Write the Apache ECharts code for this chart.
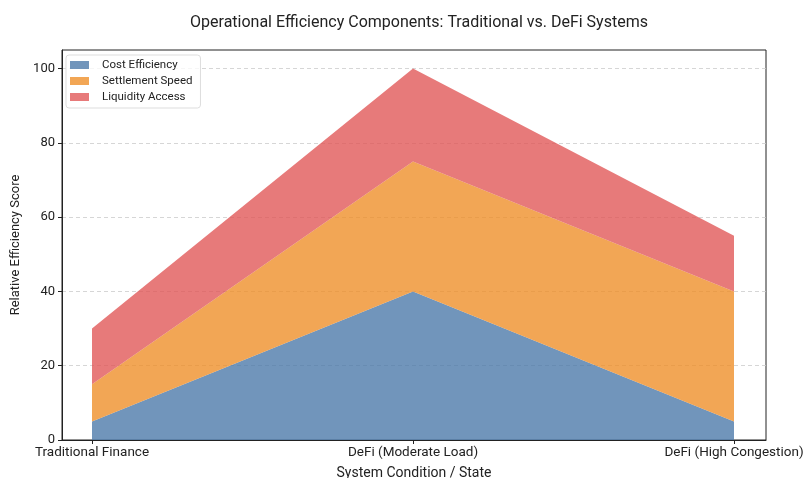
<!DOCTYPE html>
<html>
<head>
<meta charset="utf-8">
<script src="https://cdn.jsdelivr.net/npm/echarts@6/dist/echarts.min.js"></script>
<style>
  html, body { margin: 0; padding: 0; background: #fff; }
  #chart { width: 804px; height: 478px; }
</style>
</head>
<body>
<div id="chart"></div>
<script>
// System states along the x axis
const categories = ['Traditional Finance', 'DeFi (Moderate Load)', 'DeFi (High Congestion)'];
// Stacked efficiency components
const costEfficiency = [5, 40, 5];
const settlementSpeed = [10, 35, 35];
const liquidityAccess = [15, 25, 15];
const yTicks = [0, 20, 40, 60, 80, 100];

const FONT = 'Roboto, "Open Sans", sans-serif';
const TXT = '#222';
const chart = echarts.init(document.getElementById('chart'), null, { renderer: 'canvas' });

// Outer frame (axes box, y ticks, grid lines) and an inner plotting grid
// inset so the first and last states sit away from the frame edges.
const FRAME = { left: 62, right: 38, top: 50, bottom: 38 };
const PLOT = { left: 92, right: 70, top: 50, bottom: 38 };

function areaSeries(name, values, color) {
  return {
    name: name,
    type: 'line',
    stack: 'total',
    xAxisIndex: 1,
    yAxisIndex: 1,
    data: values,
    symbol: 'none',
    lineStyle: { width: 0 },
    areaStyle: { color: color, opacity: 0.8 },
    itemStyle: { color: color, opacity: 0.8 },
    emphasis: { disabled: true }
  };
}

chart.setOption({
  animation: false,
  textStyle: { fontFamily: FONT },
  title: {
    text: 'Operational Efficiency Components: Traditional vs. DeFi Systems',
    left: 414, top: 10, textAlign: 'center',
    textStyle: { fontSize: 16, fontWeight: 'normal', color: TXT, fontFamily: FONT }
  },
  legend: {
    left: 66, top: 55, orient: 'vertical',
    icon: 'rect',
    itemWidth: 19, itemHeight: 8, itemGap: 4,
    padding: [4, 8, 5, 4],
    borderColor: '#ddd', borderWidth: 1, borderRadius: 3,
    backgroundColor: 'rgba(255,255,255,0.8)',
    textStyle: { fontSize: 11.5, color: TXT, fontFamily: FONT, padding: [0, 0, 0, 8] },
    data: ['Cost Efficiency', 'Settlement Speed', 'Liquidity Access']
  },
  grid: [
    Object.assign({ show: true, borderColor: '#222', borderWidth: 1, backgroundColor: 'transparent',
      containLabel: false, outerBoundsMode: 'none' }, FRAME),
    Object.assign({ show: false, containLabel: false, outerBoundsMode: 'none' }, PLOT)
  ],
  xAxis: [
    {
      gridIndex: 0, type: 'value', min: 0, max: 1,
      name: 'System Condition / State', nameLocation: 'middle', nameGap: 26,
      nameTextStyle: { fontSize: 14, color: TXT, fontFamily: FONT },
      axisLine: { show: true, lineStyle: { color: '#222' } },
      axisTick: { show: false }, axisLabel: { show: false }, splitLine: { show: false }
    },
    {
      gridIndex: 1, type: 'category', data: categories, boundaryGap: false,
      axisLine: { show: false },
      axisTick: { show: true, length: 4, lineStyle: { color: '#222' } },
      axisLabel: { fontSize: 13.5, color: TXT, margin: 6, interval: 0 },
      splitLine: { show: false }
    }
  ],
  yAxis: [
    {
      gridIndex: 0, type: 'value', min: 0, max: 105,
      name: 'Relative Efficiency Score', nameLocation: 'middle', nameGap: 39,
      nameTextStyle: { fontSize: 13, color: TXT, fontFamily: FONT },
      axisLine: { show: true, onZero: false, lineStyle: { color: '#222' } },
      axisTick: { show: true, customValues: yTicks, length: 4, lineStyle: { color: '#222' } },
      axisLabel: { customValues: yTicks, fontSize: 13, color: TXT, margin: 7 },
      splitLine: { show: true, lineStyle: { color: '#cccccc', type: [4, 3], width: 0.8 } }
    },
    {
      gridIndex: 1, type: 'value', min: 0, max: 105, show: false,
      splitLine: { show: false }
    }
  ],
  series: [
    areaSeries('Cost Efficiency', costEfficiency, '#4E7AAA'),
    areaSeries('Settlement Speed', settlementSpeed, '#EF902A'),
    areaSeries('Liquidity Access', liquidityAccess, '#E15959')
  ]
});
</script>
</body>
</html>
